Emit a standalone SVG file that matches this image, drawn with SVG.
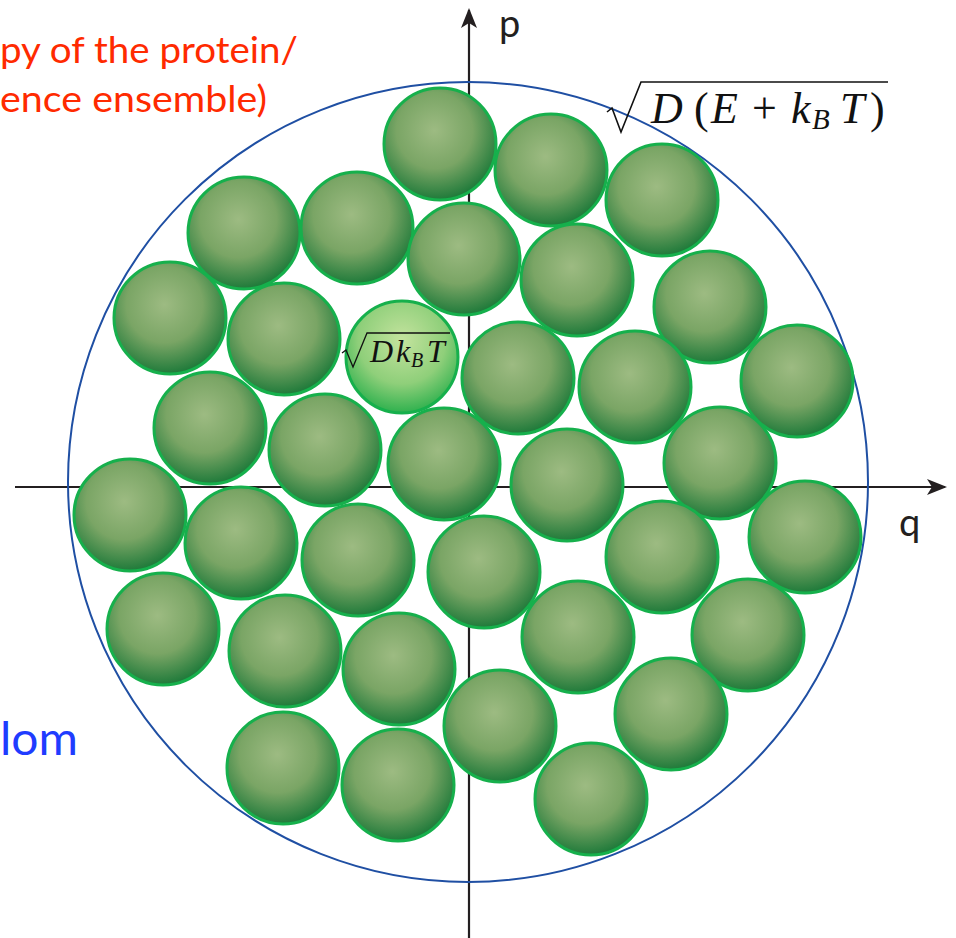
<svg xmlns="http://www.w3.org/2000/svg" width="956" height="938" viewBox="0 0 956 938">
<style>
.ball{fill:url(#g);stroke:#16b04c;stroke-width:3}
.ax{stroke:#231f20;stroke-width:2.2;fill:none}
.lbl{font-family:Lato,"Open Sans","Liberation Sans",sans-serif}
.m{font-family:"Liberation Serif","DejaVu Serif",serif;font-style:italic;fill:#111}
.mr{font-family:"Liberation Serif","DejaVu Serif",serif;fill:#111}
</style>
<defs>
<radialGradient id="g" cx="0.45" cy="0.38" r="0.62" fx="0.45" fy="0.38">
<stop offset="0" stop-color="#9dbb82"/>
<stop offset="0.55" stop-color="#7aa565"/>
<stop offset="1" stop-color="#1f7a3a"/>
</radialGradient>
<radialGradient id="gh" cx="0.5" cy="0.35" r="0.65">
<stop offset="0" stop-color="#c4e39e"/>
<stop offset="0.6" stop-color="#8fcf7a"/>
<stop offset="1" stop-color="#2fb14e"/>
</radialGradient>
<marker id="ar" viewBox="0 0 20 16" refX="18" refY="8" markerWidth="20" markerHeight="16" markerUnits="userSpaceOnUse" orient="auto">
<path d="M0,0 L20,8 L0,16 L5,8 Z" fill="#231f20"/>
</marker>
</defs>
<rect width="956" height="938" fill="#fff"/>
<g id="texts">
<text class="lbl" x="0" y="63" font-size="37" fill="#ff2a00" textLength="298" lengthAdjust="spacingAndGlyphs">py of the protein/</text>
<text class="lbl" x="0" y="112" font-size="37" fill="#ff2a00" textLength="267" lengthAdjust="spacingAndGlyphs">ence ensemble)</text>
<text class="lbl" x="0" y="755" font-size="46" fill="#1f3cff" textLength="78" lengthAdjust="spacingAndGlyphs">lom</text>
<text class="lbl" x="499" y="37" font-size="38" fill="#231f20">p</text>
<text class="lbl" x="899" y="536" font-size="38" fill="#231f20">q</text>
</g>
<g id="connectors">
<line class="ax" x1="469" y1="938" x2="469" y2="10" marker-end="url(#ar)"/>
<line class="ax" x1="15" y1="487" x2="945" y2="487" marker-end="url(#ar)"/>
</g>
<g id="boundary">
<circle cx="468" cy="482" r="400" fill="none" stroke="#1f4fa3" stroke-width="2"/>
</g>
<g id="balls">
<circle id="b1" class="ball" cx="440" cy="144" r="56"/>
<circle id="b2" class="ball" cx="551" cy="170" r="56"/>
<circle id="b3" class="ball" cx="662" cy="200" r="56"/>
<circle id="b4" class="ball" cx="244" cy="233" r="56"/>
<circle id="b5" class="ball" cx="357" cy="228" r="56"/>
<circle id="b6" class="ball" cx="464" cy="259" r="56"/>
<circle id="b7" class="ball" cx="577" cy="280" r="56"/>
<circle id="b8" class="ball" cx="710" cy="307" r="56"/>
<circle id="b9" class="ball" cx="170" cy="318" r="56"/>
<circle id="b10" class="ball" cx="284" cy="339" r="56"/>
<circle id="b12" class="ball" cx="518" cy="378" r="56"/>
<circle id="b13" class="ball" cx="635" cy="387" r="56"/>
<circle id="b14" class="ball" cx="797" cy="381" r="56"/>
<circle id="b15" class="ball" cx="210" cy="428" r="56"/>
<circle id="b16" class="ball" cx="325" cy="450" r="56"/>
<circle id="b17" class="ball" cx="444" cy="464" r="56"/>
<circle id="b18" class="ball" cx="567" cy="485" r="56"/>
<circle id="b19" class="ball" cx="720" cy="463" r="56"/>
<circle id="b20" class="ball" cx="130" cy="515" r="56"/>
<circle id="b21" class="ball" cx="241" cy="543" r="56"/>
<circle id="b22" class="ball" cx="358" cy="560" r="56"/>
<circle id="b23" class="ball" cx="484" cy="572" r="56"/>
<circle id="b24" class="ball" cx="662" cy="557" r="56"/>
<circle id="b25" class="ball" cx="805" cy="537" r="56"/>
<circle id="b26" class="ball" cx="163" cy="629" r="56"/>
<circle id="b27" class="ball" cx="285" cy="651" r="56"/>
<circle id="b28" class="ball" cx="399" cy="669" r="56"/>
<circle id="b29" class="ball" cx="578" cy="637" r="56"/>
<circle id="b30" class="ball" cx="748" cy="635" r="56"/>
<circle id="b31" class="ball" cx="500" cy="726" r="56"/>
<circle id="b32" class="ball" cx="671" cy="714" r="56"/>
<circle id="b33" class="ball" cx="283" cy="768" r="56"/>
<circle id="b34" class="ball" cx="398" cy="785" r="56"/>
<circle id="b35" class="ball" cx="591" cy="799" r="56"/>
</g>
<g id="highlight">
<circle cx="402" cy="357" r="56" fill="url(#gh)" stroke="#16b04c" stroke-width="3"/>
<path d="M342,353 L346,350 L353,367 L367,333 L450,333" fill="none" stroke="#111" stroke-width="1.3"/>
<text class="m" x="370" y="362" font-size="32">D</text>
<text class="m" x="396" y="362" font-size="32">k</text>
<text class="m" x="411" y="367" font-size="20">B</text>
<text class="m" x="427" y="362" font-size="32">T</text>
</g>
<g id="formula">
<path d="M607,112 L612,108 L621,132 L641,82 L888,82" fill="none" stroke="#111" stroke-width="1.6"/>
<text class="m" x="651" y="123" font-size="44">D</text>
<text class="mr" x="694" y="123" font-size="44">(</text>
<text class="m" x="711" y="123" font-size="44">E</text>
<text class="mr" x="752" y="123" font-size="44">+</text>
<text class="m" x="791" y="123" font-size="44">k</text>
<text class="m" x="812" y="129" font-size="29">B</text>
<text class="m" x="840" y="123" font-size="44">T</text>
<text class="mr" x="870" y="123" font-size="44">)</text>
</g>
</svg>
